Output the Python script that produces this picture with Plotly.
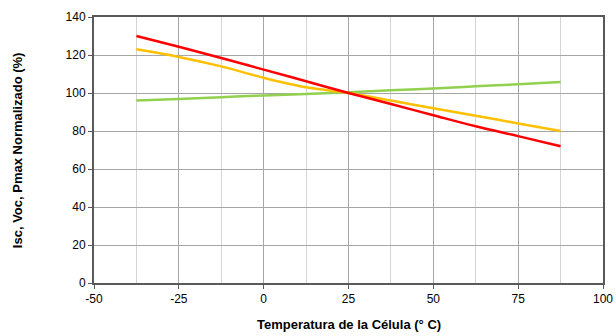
import plotly.graph_objects as go

temps = [-37.5, -25, -12.5, 0, 12.5, 25, 37.5, 50, 62.5, 75, 87.5]
pmax = [130, 124.3, 118.4, 112.3, 106.2, 100, 94.2, 88.3, 82.5, 77.3, 72]
voc = [123, 119, 114, 108, 103, 100, 96, 92, 88, 84, 80]
isc = [96, 96.9, 97.8, 98.7, 99.5, 100.4, 101.4, 102.4, 103.5, 104.6, 105.8]

xticks = [-50, -25, 0, 25, 50, 75, 100]
yticks = [0, 20, 40, 60, 80, 100, 120, 140]
x_title = "Temperatura de la Célula (° C)"
y_title = "Isc, Voc, Pmax Normalizado (%)"

fig = go.Figure()
fig.add_trace(go.Scatter(x=temps, y=isc, mode="lines", line=dict(color="#92d050", width=2.5), line_shape="spline"))
fig.add_trace(go.Scatter(x=temps, y=voc, mode="lines", line=dict(color="#ffc000", width=2.5), line_shape="spline"))
fig.add_trace(go.Scatter(x=temps, y=pmax, mode="lines", line=dict(color="#ff0000", width=2.5), line_shape="spline"))

font = dict(family="Arial, Liberation Sans, sans-serif", size=12, color="#000")
fig.update_layout(
    width=616, height=336,
    margin=dict(l=94, r=13, t=17, b=53),
    paper_bgcolor="white", plot_bgcolor="white",
    showlegend=False,
    font=font,
    xaxis=dict(
        range=[-50, 100], tickvals=xticks, ticktext=[str(v) for v in xticks],
        showgrid=True, gridcolor="#a6a6a6", gridwidth=1,
        minor=dict(dtick=12.5, tick0=0, showgrid=True, gridcolor="#d4d4d4", gridwidth=1),
        showline=True, linecolor="#595959", linewidth=2, mirror=True,
        ticks="outside", ticklen=4, tickcolor="#595959",
        zeroline=False, automargin=False,
    ),
    yaxis=dict(
        range=[0, 140], tickvals=yticks, ticktext=[str(v) for v in yticks],
        showgrid=True, gridcolor="#a6a6a6", gridwidth=1,
        showline=True, linecolor="#595959", linewidth=2, mirror=True,
        ticks="outside", ticklen=4, tickcolor="#595959",
        zeroline=False, automargin=False,
    ),
    annotations=[
        dict(text="<b>" + x_title + "</b>", xref="paper", yref="paper", x=0.5, y=-0.155,
             xanchor="center", yanchor="middle", showarrow=False, font=dict(size=13)),
        dict(text="<b>" + y_title + "</b>", xref="paper", yref="paper", x=-0.151, y=0.5,
             xanchor="center", yanchor="middle", textangle=-90, showarrow=False, font=dict(size=13)),
    ],
)
fig.write_html("out.html", config={"displayModeBar": False},
               post_script="document.body.style.margin='0';document.body.style.overflow='hidden';")
